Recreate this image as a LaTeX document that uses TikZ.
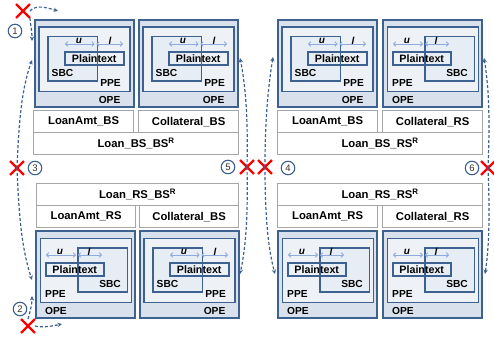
\documentclass[tikz,border=0pt]{standalone}
\usepackage{fontspec}
\setmainfont{Liberation Sans}
\usetikzlibrary{arrows.meta,shapes.misc}
\definecolor{bcol}{HTML}{3D6190}
\definecolor{opefill}{HTML}{D9E1EC}
\definecolor{ppefill}{HTML}{EEF2F7}
\definecolor{sbcfill}{HTML}{E7EDF4}
\definecolor{tcol}{HTML}{A6A6A6}
\definecolor{dimcol}{HTML}{8FAADC}
\definecolor{xred}{HTML}{FF0000}
\tikzset{
 opebox/.style={draw=bcol, fill=opefill, line width=1.6pt, inner sep=0, anchor=north west, minimum width=99pt, minimum height=87pt},
 ppebox/.style={draw=bcol, fill=ppefill, line width=1.5pt, inner sep=0, anchor=north west, minimum width=91pt, minimum height=64pt},
 sbcbox/.style={draw=bcol, fill=sbcfill, line width=1.5pt, inner sep=0, anchor=north west, minimum width=49.5pt, minimum height=44pt},
 ptbox/.style={draw=bcol, line width=1.5pt, inner sep=0, anchor=north west, minimum height=13pt, font=\fontsize{10.7}{12}\selectfont\bfseries},
 lab/.style={inner sep=0, font=\fontsize{10.2}{12}\selectfont\bfseries},
 ul/.style={inner sep=0, font=\fontsize{10}{12}\selectfont\bfseries\itshape},
 dimarrow/.style={draw=dimcol, line width=0.9pt, {Straight Barb[length=2.2pt,width=4.5pt]}-{Straight Barb[length=2.2pt,width=4.5pt]}},
 cell/.style={draw=tcol, line width=1.2pt, fill=white, inner sep=0, anchor=north west, minimum height=22pt, font=\fontsize{11.3}{13}\selectfont\bfseries},
 att/.style={draw=bcol, dash pattern=on 3pt off 2pt, line width=1.2pt, -{Stealth[length=4.5pt,width=4.2pt]}},
 xmark/.style={cross out, draw=xred, line width=2.4pt, minimum size=11.5pt, inner sep=0},
 num/.style={circle, draw=bcol, line width=1.1pt, fill=white, text=black!80, minimum size=13.5pt, inner sep=0, font=\fontsize{9.5}{10}\selectfont}
}
\newcommand\qboxA[3]{%
\begin{scope}[shift={(#2,#3)}]
\node[opebox] (#1o) at (0,0) {};
\node[ppebox] (#1p) at (4,7.5) {};
\node[sbcbox] (#1s) at (13,17) {};
\node[ptbox, minimum width=59pt] (#1t) at (30,32) {Plaintext};
\coordinate (#1a) at (31,25); \coordinate (#1b) at (61.5,25); \coordinate (#1c) at (89,25);
\draw[dimarrow] (#1a) -- ([xshift=-0.8pt]#1b);
\draw[dimarrow] ([xshift=0.8pt]#1b) -- (#1c);
\node[ul] (#1u) at (45,22) {u};
\node[ul] (#1l) at (76,22) {l};
\node[lab, anchor=south west] (#1sl) at (17.5,58) {SBC};
\node[lab, anchor=south east] (#1pl) at (87,68) {PPE};
\node[lab, anchor=south east] (#1ol) at (86.5,85) {OPE};
\end{scope}}
\newcommand\qboxB[3]{%
\begin{scope}[shift={(#2,#3)}]
\node[opebox] (#1o) at (0,0) {};
\node[ppebox] (#1p) at (4.5,7.5) {};
\node[sbcbox] (#1s) at (42,17) {};
\node[ptbox, minimum width=58pt] (#1t) at (10,32) {Plaintext};
\coordinate (#1a) at (11,25); \coordinate (#1b) at (42,25); \coordinate (#1c) at (67,25);
\draw[dimarrow] (#1a) -- ([xshift=-0.8pt]#1b);
\draw[dimarrow] ([xshift=0.8pt]#1b) -- (#1c);
\node[ul] (#1u) at (25,22) {u};
\node[ul] (#1l) at (54,22) {l};
\node[lab, anchor=south east] (#1sl) at (86,58) {SBC};
\node[lab, anchor=south west] (#1pl) at (10,68) {PPE};
\node[lab, anchor=south west] (#1ol) at (10,85) {OPE};
\end{scope}}
\begin{document}
\begin{tikzpicture}[x=1pt,y=-1pt]
\fill[white] (0,0) rectangle (494,337);
\useasboundingbox (0,0) rectangle (494,337);
% boxes
\qboxA{tla}{34}{19}
\qboxA{tlb}{138}{19}
\qboxA{tra}{277}{19}
\qboxB{trb}{382}{19}
\qboxB{bla}{35}{230}
\qboxA{blb}{139}{230}
\qboxB{bra}{277}{230}
\qboxB{brb}{382}{230}
% tables
\node[cell, minimum width=100pt] (c1a) at (33,110) {LoanAmt\_BS};
\node[cell, minimum width=100pt] (c1b) at (138,110) {Collateral\_BS};
\node[cell, minimum width=205pt] (c1c) at (33,132) {Loan\_BS\_BS\textsuperscript{R}};
\node[cell, minimum width=202pt] (c2c) at (36,183) {Loan\_RS\_BS\textsuperscript{R}};
\node[cell, minimum width=99pt] (c2a) at (36,205) {LoanAmt\_RS};
\node[cell, minimum width=99pt] (c2b) at (139,205) {Collateral\_BS};
\node[cell, minimum width=100pt] (c3a) at (277,110) {LoanAmt\_BS};
\node[cell, minimum width=100pt] (c3b) at (382,110) {Collateral\_RS};
\node[cell, minimum width=205pt] (c3c) at (277,132) {Loan\_BS\_RS\textsuperscript{R}};
\node[cell, minimum width=205pt] (c4c) at (277,183) {Loan\_RS\_RS\textsuperscript{R}};
\node[cell, minimum width=100pt] (c4a) at (277,205) {LoanAmt\_RS};
\node[cell, minimum width=100pt] (c4b) at (382,205) {Collateral\_RS};
% attack marks
\node[xmark] (x1) at (23,11) {};
\node[xmark] (x2) at (28,326) {};
\node[xmark] (x3) at (17,168) {};
\node[xmark] (x5) at (247,167) {};
\node[xmark] (x4) at (265,167) {};
\node[xmark] (x6) at (488,168) {};
\node[num] (n1) at (15,31) {1};
\node[num] (n2) at (20,309) {2};
\node[num] (n3) at (35,168) {3};
\node[num] (n5) at (228,167) {5};
\node[num] (n4) at (288,168) {4};
\node[num] (n6) at (472,168) {6};
% arrow ends
\coordinate (e1r) at (58,11);
\coordinate (e1d) at (32,41);
\coordinate (e3u) at (32,60);
\coordinate (e3d) at (32,280);
\coordinate (e2u) at (32,296);
\coordinate (e2r) at (62,324);
\coordinate (e5u) at (240,58);
\coordinate (e5d) at (240,274);
\coordinate (e4u) at (273,57);
\coordinate (e4d) at (275,274);
\coordinate (e6u) at (484,58);
\coordinate (e6d) at (485,274);
% attack arrows
\draw[att] (x1.east) .. controls (36,4) and (48,8) .. (e1r);
\draw[att] (x1.south east) .. controls (30,22) and (32,30) .. (e1d);
\draw[att] (x3.center) .. controls (19,118) and (22,88) .. (e3u);
\draw[att] (x3.center) .. controls (19,218) and (22,250) .. (e3d);
\draw[att] (x2.north) .. controls (30,312) and (32,305) .. (e2u);
\draw[att] (x2.east) .. controls (42,328) and (52,326) .. (e2r);
\draw[att] (x5.center) .. controls (248,120) and (246,88) .. (e5u);
\draw[att] (x5.center) .. controls (248,216) and (246,246) .. (e5d);
\draw[att] (x4.center) .. controls (265,120) and (268,88) .. (e4u);
\draw[att] (x4.center) .. controls (265,216) and (268,248) .. (e4d);
\draw[att] (x6.center) .. controls (490,120) and (489,88) .. (e6u);
\draw[att] (x6.center) .. controls (490,216) and (489,248) .. (e6d);
\end{tikzpicture}
\end{document}
